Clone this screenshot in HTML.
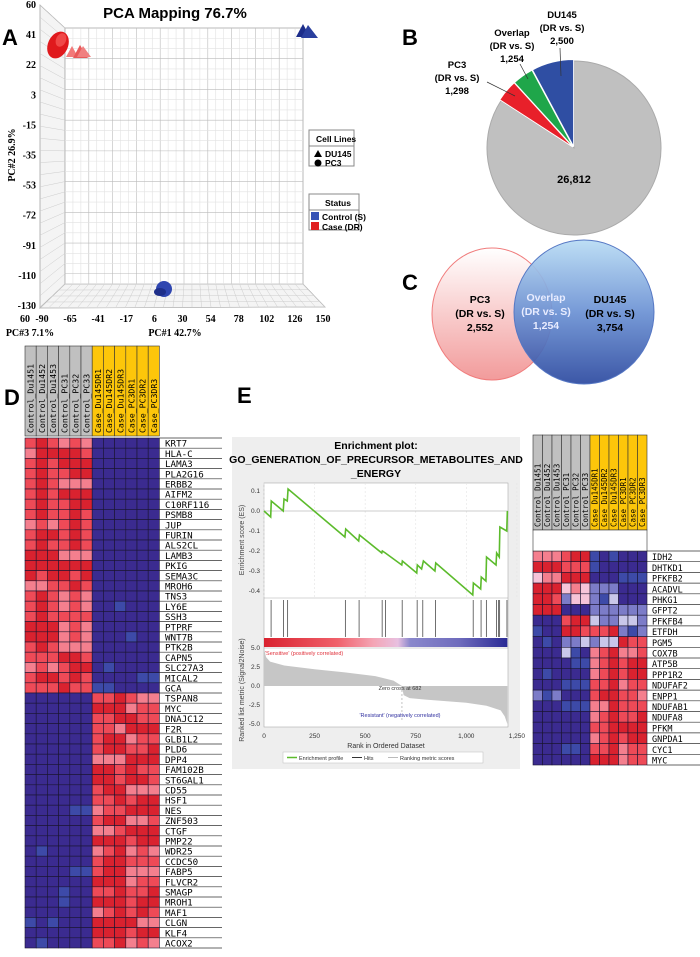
<!DOCTYPE html>
<html><head><meta charset="utf-8"><style>
body{margin:0;background:#fff;}
svg{display:block;font-family:"Liberation Sans",sans-serif;}
.mono{font-family:"DejaVu Sans Mono","Liberation Mono",monospace;}
</style></head><body>
<svg id="fig" width="700" height="957" viewBox="0 0 700 957">
<!-- Panel A -->
<g id="pa">
<text x="175" y="18" font-size="15" font-weight="bold" text-anchor="middle">PCA Mapping 76.7%</text>
<text x="2" y="45" font-size="22" font-weight="bold">A</text>
<polygon points="40,5 65,28 65,284 40,308" fill="#f4f4f4" stroke="#999" stroke-width="0.7"/>
<polygon points="40,308 65,284 303,284 325,307" fill="#f4f4f4" stroke="#999" stroke-width="0.7"/>
<rect x="65" y="28" width="238" height="256" fill="#fff" stroke="#999" stroke-width="0.7"/>
<g id="pgrid"></g>
<text x="15" y="155" font-size="10" font-family="Liberation Serif,serif" font-weight="bold" text-anchor="middle" transform="rotate(-90 15 155)">PC#2 26.9%</text>
<text x="175" y="336" font-size="10" font-family="Liberation Serif,serif" font-weight="bold" text-anchor="middle">PC#1 42.7%</text>
<text x="30" y="336" font-size="10" font-family="Liberation Serif,serif" font-weight="bold" text-anchor="middle">PC#3 7.1%</text>
<g>
<ellipse cx="58" cy="45" rx="10" ry="14" fill="#e0191d" transform="rotate(25 58 45)"/>
<ellipse cx="61" cy="40" rx="5" ry="7" fill="#f04848" transform="rotate(25 61 40)"/>
<polygon points="66,57 72,46 78,57" fill="#f27a7a"/>
<polygon points="73,58 80,45 88,58" fill="#e85a5a"/>
<polygon points="77,57 83,46 91,57" fill="#f08080"/>
<polygon points="296,37 303,24 310,37" fill="#1c2d8a"/>
<polygon points="301,38 308,25 318,38" fill="#2a3f9e"/>
<ellipse cx="164" cy="289" rx="8" ry="8" fill="#2f46b0"/>
<ellipse cx="160" cy="292" rx="6" ry="4" fill="#1e2f8a"/>
</g>
<g>
<rect x="309" y="130" width="45" height="36" fill="#fff" stroke="#888"/>
<line x1="309" y1="146" x2="354" y2="146" stroke="#888"/>
<text x="316" y="142" font-size="8.5" font-weight="bold">Cell Lines</text>
<polygon points="314,157 318,150 322,157" fill="#000"/><text x="325" y="157" font-size="8.5" font-weight="bold">DU145</text>
<circle cx="318" cy="163" r="3.5" fill="#000"/><text x="325" y="166" font-size="8.5" font-weight="bold">PC3</text>
</g>
<g>
<rect x="309" y="194" width="50" height="36" fill="#fff" stroke="#888"/>
<line x1="309" y1="210" x2="359" y2="210" stroke="#888"/>
<text x="325" y="206" font-size="8.5" font-weight="bold">Status</text>
<rect x="311" y="212" width="8" height="8" fill="#3552b5"/><text x="322" y="220" font-size="8.5" font-weight="bold">Control (S)</text>
<rect x="311" y="222" width="8" height="8" fill="#e02020"/><text x="322" y="230" font-size="8.5" font-weight="bold">Case (DR)</text>
</g>
</g>
<!-- Panel B -->
<text x="402" y="45" font-size="22" font-weight="bold">B</text>
<g id="pie"></g>
<g font-size="9.5" font-weight="bold" text-anchor="middle">
<text x="562" y="18">DU145</text><text x="562" y="31">(DR vs. S)</text><text x="562" y="44">2,500</text>
<text x="512" y="36">Overlap</text><text x="512" y="49">(DR vs. S)</text><text x="512" y="62">1,254</text>
<text x="457" y="68">PC3</text><text x="457" y="81">(DR vs. S)</text><text x="457" y="94">1,298</text>
<text x="574" y="183" font-size="11">26,812</text>
<line x1="560" y1="48" x2="561" y2="76" stroke="#333" stroke-width="0.7"/>
<line x1="520" y1="64" x2="528" y2="79" stroke="#333" stroke-width="0.7"/>
<line x1="487" y1="82" x2="515" y2="96" stroke="#333" stroke-width="0.7"/>
</g>
<!-- Panel C -->
<text x="402" y="290" font-size="22" font-weight="bold">C</text>
<defs>
<linearGradient id="gr" x1="0" y1="0" x2="0" y2="1"><stop offset="0" stop-color="#fff"/><stop offset="1" stop-color="#f29b9b"/></linearGradient>
<linearGradient id="gb" x1="0" y1="0" x2="0" y2="1"><stop offset="0" stop-color="#b9dcf4"/><stop offset="0.5" stop-color="#6c92d4"/><stop offset="1" stop-color="#2d4aa0"/></linearGradient>
<linearGradient id="cb" x1="0" y1="0" x2="1" y2="0"><stop offset="0" stop-color="#d9222f"/><stop offset="0.3" stop-color="#f0606a"/><stop offset="0.45" stop-color="#f4a5b5"/><stop offset="0.55" stop-color="#e8c0e0"/><stop offset="0.6" stop-color="#8a88cc"/><stop offset="0.8" stop-color="#6f6cbd"/><stop offset="1" stop-color="#2a2a95"/></linearGradient>
</defs>
<g>
<ellipse cx="492" cy="314" rx="60" ry="66" fill="url(#gr)" stroke="#f07c7c"/>
<ellipse cx="584" cy="312" rx="70" ry="72" fill="url(#gb)" fill-opacity="0.93" stroke="#5577c4"/>
<g font-size="10.5" font-weight="bold" text-anchor="middle">
<text x="480" y="303">PC3</text><text x="480" y="317">(DR vs. S)</text><text x="480" y="331">2,552</text>
<text x="546" y="301" fill="#e8ecff">Overlap</text><text x="546" y="315" fill="#e8ecff">(DR vs. S)</text><text x="546" y="329" fill="#e8ecff">1,254</text>
<text x="610" y="303">DU145</text><text x="610" y="317">(DR vs. S)</text><text x="610" y="331">3,754</text>
</g></g>
<!-- Panel D -->
<text x="4" y="405" font-size="22" font-weight="bold">D</text>
<g id="hmD"></g>
<!-- Panel E -->
<text x="237" y="403" font-size="22" font-weight="bold">E</text>
<g id="gsea">
<rect x="232" y="437" width="288" height="332" fill="#eeeeee"/>
<g font-size="10.5" font-weight="bold" text-anchor="middle">
<text x="376" y="449">Enrichment plot:</text>
<text x="376" y="463">GO_GENERATION_OF_PRECURSOR_METABOLITES_AND</text>
<text x="376" y="477">_ENERGY</text></g>
<rect x="264" y="483" width="244" height="244" fill="#fff" stroke="#aaa" stroke-width="0.6"/>
<g id="gseaInner"></g>
</g>
<g id="hmE"></g>
</svg>
<script>
const NS="http://www.w3.org/2000/svg";
function mk(t,a,p){const e=document.createElementNS(NS,t);for(const k in a)e.setAttribute(k,a[k]);p.appendChild(e);return e;}
// PCA grid
const pcaXTicks=["-90","-65","-41","-17","6","30","54","78","102","126","150"];
const pcaYTicks=["60","41","22","3","-15","-35","-53","-72","-91","-110","-130"];
(function(){
 const g=document.getElementById('pgrid');
 for(let i=0;i<=30;i++){const x=65+i*238/30;mk('line',{x1:x,y1:28,x2:x,y2:284,stroke:i%3==0?'#bbb':'#e2e2e2','stroke-width':0.6},g);
  mk('line',{x1:x,y1:284,x2:40+i*285/30,y2:307,stroke:'#ccc','stroke-width':0.5},g);}
 for(let i=0;i<=25;i++){const y=28+i*256/25;mk('line',{x1:65,y1:y,x2:303,y2:y,stroke:i%3==0?'#bbb':'#e2e2e2','stroke-width':0.6},g);
  mk('line',{x1:40,y1:5+i*303/25,x2:65,y2:y,stroke:'#ccc','stroke-width':0.5},g);}
 for(let i=0;i<4;i++){const t=i/4;mk('line',{x1:40+25*t,y1:308-24*t,x2:325-22*t,y2:307-23*t,stroke:'#ccc','stroke-width':0.5},g);}
 pcaXTicks.forEach((t,i)=>{const el=mk('text',{x:42+i*28.1,y:322,'font-size':10,'font-family':'Liberation Serif,serif','font-weight':'bold','text-anchor':'middle'},g);el.textContent=t;
  
  });
 pcaYTicks.forEach((t,i)=>{const el=mk('text',{x:36,y:8+i*30.1,'font-size':10,'font-family':'Liberation Serif,serif','font-weight':'bold','text-anchor':'end'},g);el.textContent=t;
  
  });
 const z=mk('text',{x:30,y:322,'font-size':10,'font-family':'Liberation Serif,serif','font-weight':'bold','text-anchor':'end'},g);z.textContent='60';
})();
// Pie
const pieLabels=["Other","PC3","Overlap","DU145"];
const pieValues=[26812,1298,1254,2500];
const pieColors=["#c0c0c0","#e8202a","#1fa64a","#2f4ea3"];
(function(){
 const g=document.getElementById('pie');const cx=574,cy=148,r=87;const tot=pieValues.reduce((a,b)=>a+b,0);
 let a0=0;
 pieValues.forEach((v,i)=>{const a1=a0+v/tot*2*Math.PI;const off=i==0?0:1.5;const mid=(a0+a1)/2;
  const ox=cx+off*Math.sin(mid),oy=cy-off*Math.cos(mid);
  const p=mk('path',{d:`M${ox},${oy} L${ox+r*Math.sin(a0)},${oy-r*Math.cos(a0)} A${r},${r} 0 ${a1-a0>Math.PI?1:0} 1 ${ox+r*Math.sin(a1)},${oy-r*Math.cos(a1)} Z`,fill:pieColors[i],stroke:i==0?'#aaa':'#fff','stroke-width':1},g);
  
  
  a0=a1;});
})();
// Heatmaps
const colorMap={'3':'#d9222f','2':'#ee4a57','1':'#f47f8e','0':'#f6c4d8','a':'#3b2b90','b':'#3d4aa8','c':'#7c7cc8','d':'#c9c7ea'};
const samples=["Control_Du1451","Control_Du1452","Control_Du1453","Control_PC31","Control_PC32","Control_PC33","Case_Du145DR1","Case_Du145DR2","Case_Du145DR3","Case_PC3DR1","Case_PC3DR2","Case_PC3DR3"];
const genesD=["KRT7","HLA-C","LAMA3","PLA2G16","ERBB2","AIFM2","C10RF116","PSMB8","JUP","FURIN","ALS2CL","LAMB3","PKIG","SEMA3C","MROH6","TNS3","LY6E","SSH3","PTPRF","WNT7B","PTK2B","CAPN5","SLC27A3","MICAL2","GCA","TSPAN8","MYC","DNAJC12","F2R","GLB1L2","PLD6","DPP4","FAM102B","ST6GAL1","CD55","HSF1","NES","ZNF503","CTGF","PMP22","WDR25","CCDC50","FABP5","FLVCR2","SMAGP","MROH1","MAF1","CLGN","KLF4","ACOX2"];
const valuesD=["232121aaaaaa","133332aaaaaa","232333aaaaaa","232233aaaaaa","232111aaaaaa","232333aaaaaa","232233aaaaaa","232232aaaaaa","121232aaaaaa","233232aaaaaa","232232aaaaaa","333111aaaaaa","333333aaaaaa","323323aaaaaa","112232aaaaaa","232121aaaaaa","232121aabaaa","232222aaaaaa","333121aaaaaa","333121aaabaa","232111aaaaaa","222332aaaaaa","121233abaaaa","233232aaaabb","222322bbaaaa",
"aaaaaa223211","aaaaaa333122","aaaaaa223322","aaaaaa221333","aaaaaa233122","aaaaaa233223","aaaaaa111333","aaaaaa332322","aaaaaa332332","aaaaaa233111","aaaaaa223233","aaaabb122333","aaaaaa233112","aaaaaa112333","aaaaaa333233","abaaaa123121","aaaaaa233222","aaaabb233111","aaaaaa333122","aaabaa223223","aaabaa333233","aaaaaa123232","babaaa333311","aaaaaa333233","abaaaa223121"];
const genesE=["IDH2","DHTKD1","PFKFB2","ACADVL","PHKG1","GFPT2","PFKFB4","ETFDH","PGM5","COX7B","ATP5B","PPP1R2","NDUFAF2","ENPP1","NDUFAB1","NDUFA8","PFKM","GNPDA1","CYC1","MYC"];
const valuesE=["111233babaaa","333222baaaaa","011333aaabbb","333010cccaaa","332c00cbdaaa","333aaacccccc","aaa233dccddc","baa332223cbc","abaccdcdd322","aaadba123112","aaaabb123233","abaaaa123233","aaabbb223122","cbcaaa233221","aaabbb113222","aaaaaa123223","aaaaaa223333","aaaaaa123233","aaabba223122","aaaaaa333122"];
function heatmap(gid,genes,vals,x0,cw,hy0,hy1,ry0,rh,lx,lx2,fs){
 const g=document.getElementById(gid);
 samples.forEach((s,j)=>{const x=x0+j*cw;
  mk('rect',{x:x,y:hy0,width:cw,height:hy1-hy0,fill:j<6?'#c0c0c0':'#fdc60a',stroke:'#333','stroke-width':0.6},g);
  const t=mk('text',{x:x+cw*0.78,y:hy1-3,'font-size':fs,class:'mono',transform:`rotate(-90 ${x+cw*0.78} ${hy1-3})`},g);t.textContent=s;
  
  });
 genes.forEach((gn,i)=>{const y=ry0+i*rh;
  for(let j=0;j<12;j++){const c=mk('rect',{x:x0+j*cw,y:y,width:cw,height:rh,fill:colorMap[vals[i][j]],stroke:'#1a1530','stroke-width':0.6},g);
   
   }
  mk('line',{x1:x0+12*cw,y1:y+rh,x2:lx2,y2:y+rh,stroke:'#333','stroke-width':0.7},g);
  const t=mk('text',{x:lx,y:y+rh-1.5,'font-size':fs+1,class:'mono'},g);t.textContent=gn;
  
  });
 mk('line',{x1:x0+12*cw,y1:ry0,x2:lx2,y2:ry0,stroke:'#333','stroke-width':0.7},g);
}
heatmap('hmD',genesD,valuesD,25,11.2,346,436,438,10.2,165,222,8.2);
heatmap('hmE',genesE,valuesE,533,9.5,435,530,551,10.7,652,700,7.5);
(function(){const g=document.getElementById('hmE');mk('rect',{x:533,y:530,width:114,height:21,fill:'#fff',stroke:'#333','stroke-width':0.6},g);})();
// GSEA
const esRanks=[0,33,36,95,99,115,119,400,404,468,472,582,585,600,681,684,755,758,779,788,845,849,1032,1035,1071,1074,1097,1100,1147,1150,1163,1166,1200,1203];
const esValues=[0,-0.03,0.05,0,0.06,0.05,0.11,-0.13,-0.09,-0.15,-0.12,-0.21,-0.2,-0.21,-0.27,-0.25,-0.31,-0.27,-0.29,-0.25,-0.3,-0.26,-0.42,-0.36,-0.39,-0.33,-0.35,-0.23,-0.27,-0.21,-0.23,-0.08,-0.1,0];
const hitRanks=[35,97,117,402,470,584,600,683,757,785,847,1034,1073,1099,1149,1160,1165,1201];
const metricRanks=[0,10,30,100,250,400,550,640,682,690,720,800,1000,1100,1170,1190,1203];
const metricValues=[5,3.8,3.2,2.7,2.2,1.8,1.3,0.7,0,-1.2,-1.6,-1.8,-2.2,-2.6,-3.2,-4,-5];
const esTicks=[0.1,0,-0.1,-0.2,-0.3,-0.4];
const metricTicks=[5,2.5,0,-2.5,-5];
const rankTicks=[0,250,500,750,1000,1250];
(function(){
 const g=document.getElementById('gseaInner');
 const xs=r=>264+r*0.2023, ye=v=>511-v*200, ym=v=>686-v*7.6;
 rankTicks.forEach(r=>{mk('line',{x1:xs(r),y1:483,x2:xs(r),y2:598,stroke:'#e4e4e4','stroke-width':0.6,'stroke-dasharray':'2,2'},g);
  const t=mk('text',{x:xs(r),y:738,'font-size':6.5,'text-anchor':'middle',fill:'#333'},g);t.textContent=r.toLocaleString('en-US');
  
  });
 esTicks.forEach(v=>{const t=mk('text',{x:260,y:ye(v)+2,'font-size':6.5,'text-anchor':'end',fill:'#333'},g);t.textContent=v.toFixed(1);
  
  });
 metricTicks.forEach(v=>{const t=mk('text',{x:260,y:ym(v)+2,'font-size':6.5,'text-anchor':'end',fill:'#333'},g);t.textContent=v.toFixed(1);
  
  });
 mk('line',{x1:264,y1:ye(0),x2:508,y2:ye(0),stroke:'#999','stroke-width':0.6},g);
 mk('line',{x1:264,y1:598,x2:508,y2:598,stroke:'#aaa','stroke-width':0.6},g);
 mk('line',{x1:264,y1:648,x2:508,y2:648,stroke:'#aaa','stroke-width':0.6},g);
 const es=mk('polyline',{points:esRanks.map((r,i)=>xs(r)+','+ye(esValues[i])).join(' '),fill:'none',stroke:'#5cbb2c','stroke-width':1.6},g);
 
 
 hitRanks.forEach(r=>{const l=mk('line',{x1:xs(r),y1:600,x2:xs(r),y2:637,stroke:'#333','stroke-width':0.7},g);
  
  });
 const cb=mk('rect',{x:264,y:638,width:xs(1203)-264,height:9,fill:'url(#cb)'},g);
 
 
 let d='M'+xs(0)+','+ym(0);metricRanks.forEach((r,i)=>{d+=' L'+xs(r)+','+ym(metricValues[i]);});d+=' L'+xs(1203)+','+ym(0)+' Z';
 const m=mk('path',{d:d,fill:'#c6c6c6'},g);
 
 
 mk('line',{x1:xs(682),y1:686,x2:xs(682),y2:720,stroke:'#888','stroke-width':0.5,'stroke-dasharray':'2,2'},g);
 const txt=(x,y,s,fs,f,a,rot)=>{const t=mk('text',{x:x,y:y,'font-size':fs,fill:f,'text-anchor':a||'start'},g);if(rot)t.setAttribute('transform',`rotate(-90 ${x} ${y})`);t.textContent=s;
  
  };
 txt(265,655,"'Sensitive' (positively correlated)",5.5,'#e0303a');
 txt(400,690,"Zero cross at 682",5.5,'#333','middle');
 txt(400,717,"'Resistant' (negatively correlated)",5.5,'#3030a0','middle');
 txt(244,540,"Enrichment score (ES)",7,'#444','middle',1);
 txt(244,690,"Ranked list metric (Signal2Noise)",7,'#444','middle',1);
 txt(386,748,"Rank in Ordered Dataset",7,'#333','middle');
 mk('rect',{x:283,y:752,width:200,height:11,fill:'#fff',stroke:'#bbb','stroke-width':0.5},g);
 mk('line',{x1:287,y1:757.5,x2:297,y2:757.5,stroke:'#5cbb2c','stroke-width':1.5},g);
 txt(299,760,"Enrichment profile",5.5,'#333');
 mk('line',{x1:352,y1:757.5,x2:362,y2:757.5,stroke:'#333','stroke-width':1},g);
 txt(364,760,"Hits",5.5,'#333');
 mk('line',{x1:388,y1:757.5,x2:398,y2:757.5,stroke:'#bbb','stroke-width':1},g);
 txt(400,760,"Ranking metric scores",5.5,'#333');
})();
</script>
</body></html>
